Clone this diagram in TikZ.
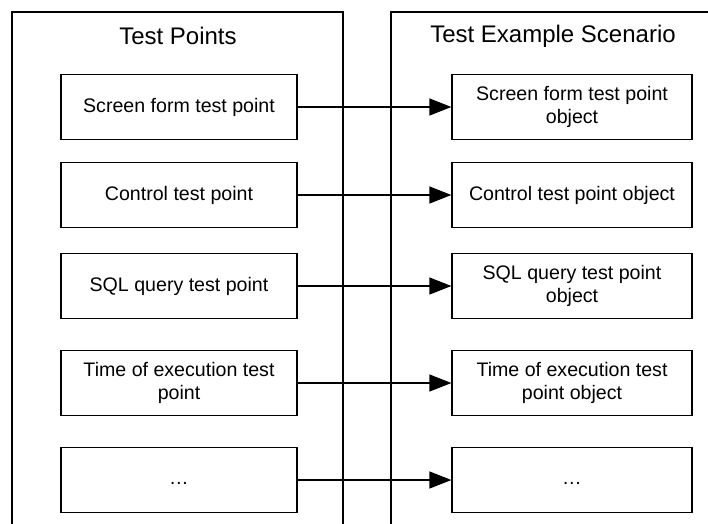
\documentclass[tikz,border=0pt]{standalone}
\usepackage{fontspec}
\setmainfont{Liberation Sans}
\usetikzlibrary{arrows.meta}

\begin{document}
\begin{tikzpicture}[
  x=1pt, y=-1pt,
  line width=1.2pt,
  every node/.style={font=\fontsize{19.6}{23}\selectfont},
  panel/.style={line cap=rect},
  paneltitle/.style={font=\fontsize{24}{28}\selectfont, inner sep=0pt},
  tpbox/.style={draw, align=center, minimum width=236pt, minimum height=65pt, inner sep=2pt},
  objbox/.style={tpbox, minimum width=240pt},
  link/.style={-{Triangle[length=22pt,width=17pt]}}
]
\useasboundingbox (0,0) rectangle (708,523);

% the two swimlanes, open at the bottom
\draw[panel] (12,523) -- (12,12) -- (343,12) -- (343,523);
\draw[panel] (391,523) -- (391,12) -- (708,12);
\node[paneltitle] (tptitle) at (178,36) {Test Points};
\node[paneltitle] (sctitle) at (553,36) {Test Example Scenario};

% test points
\node[tpbox] (screen)  at (179,107) {Screen form test point};
\node[tpbox] (control) at (179,195) {Control test point};
\node[tpbox] (sql)     at (179,286) {SQL query test point};
\node[tpbox] (time)    at (179,383) {Time of execution test\\point};
\node[tpbox] (more)    at (179,480) {\strut\dots};

% scenario objects
\node[objbox] (screenobj)  at (572,107) {Screen form test point\\object};
\node[objbox] (controlobj) at (572,195) {Control test point object};
\node[objbox] (sqlobj)     at (572,286) {SQL query test point\\object};
\node[objbox] (timeobj)    at (572,383) {Time of execution test\\point object};
\node[objbox] (moreobj)    at (572,480) {\strut\dots};

\draw[link] (screen)  -- (screenobj);
\draw[link] (control) -- (controlobj);
\draw[link] (sql)     -- (sqlobj);
\draw[link] (time)    -- (timeobj);
\draw[link] (more)    -- (moreobj);
\end{tikzpicture}
\end{document}
